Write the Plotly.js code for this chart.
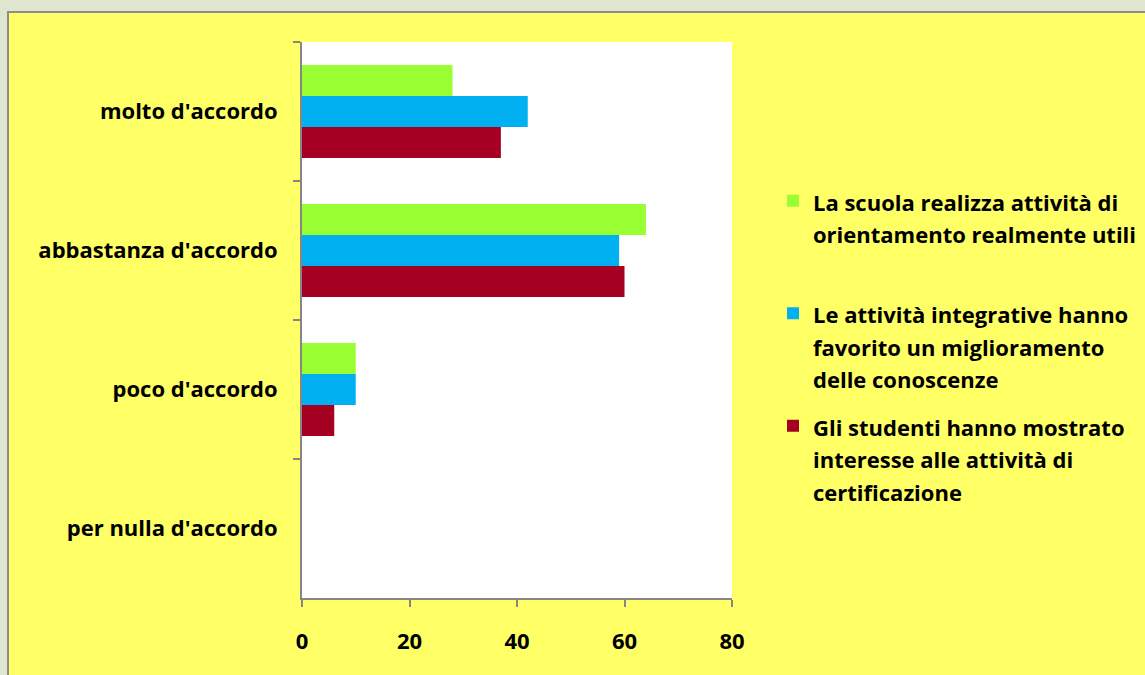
<!DOCTYPE html>
<html>
<head>
<meta charset="utf-8">
<script src="https://cdn.plot.ly/plotly-3.0.1.min.js"></script>
<style>
html,body{margin:0;padding:0;background:#dfe6d0;width:1145px;height:675px;overflow:hidden;}
#frame{position:absolute;left:7px;top:11px;width:1145px;height:675px;background:#FFFF66;border:2px solid #8c8c8c;box-sizing:border-box;}
#chart{position:absolute;left:8px;top:12px;width:1137px;height:663px;}
</style>
</head>
<body>
<div id="frame"></div>
<div id="chart"></div>
<script>
const categories = ["molto d'accordo", "abbastanza d'accordo", "poco d'accordo", "per nulla d'accordo"];
const seriesNames = [
  ["La scuola realizza attività di", "orientamento realmente utili", "\u00a0"],
  ["Le attività integrative hanno", "favorito un miglioramento", "delle conoscenze"],
  ["Gli studenti hanno mostrato", "interesse alle attività di", "certificazione"]
];
const orientamento = [28, 64, 10, 0];
const integrative = [42, 59, 10, 0];
const certificazione = [37, 60, 6, 0];
const colors = ["#99FF33", "#00B0F0", "#A50021"];
const xTicks = [0, 20, 40, 60, 80];

const seriesValues = [orientamento, integrative, certificazione];
const legendLabel = lines => lines.map(l => '<span style="font-size:22px">' + l + '</span>').join('<br>');
const traces = seriesValues.map((vals, i) => ({
  type: 'bar',
  orientation: 'h',
  y: categories,
  x: vals,
  name: legendLabel(seriesNames[i]),
  legendgroup: 'g' + i,
  marker: {color: colors[i]}
}));

const font = {family: '"Open Sans", sans-serif', size: 22, color: '#000000', weight: 'bold'};

const layout = {
  width: 1137,
  height: 663,
  paper_bgcolor: 'rgba(0,0,0,0)',
  plot_bgcolor: '#FFFFFF',
  margin: {l: 294, r: 413, t: 30, b: 77, pad: 0},
  barmode: 'group',
  bargap: 0.33,
  bargroupgap: 0,
  font: font,
  showlegend: true,
  legend: {
    x: 765 / 1137, xref: 'container', xanchor: 'left',
    y: 1 - 166 / 663, yref: 'container', yanchor: 'top',
    bgcolor: 'rgba(0,0,0,0)',
    font: {family: '"Open Sans", sans-serif', size: 25, color: '#000000', weight: 'bold'},
    valign: 'top',
    tracegroupgap: 12,
    traceorder: 'grouped'
  },
  xaxis: {
    range: [0, 80],
    tickvals: xTicks,
    ticktext: xTicks.map(String),
    showgrid: false,
    zeroline: false,
    showline: true,
    linecolor: '#868686',
    linewidth: 2,
    ticks: 'outside',
    ticklen: 7,
    tickwidth: 2,
    tickcolor: '#868686',
    ticklabelstandoff: 16,
    tickfont: font,
    fixedrange: true
  },
  yaxis: {
    type: 'category',
    autorange: 'reversed',
    showgrid: false,
    zeroline: false,
    showline: true,
    linecolor: '#868686',
    linewidth: 2,
    ticks: 'outside',
    tickson: 'boundaries',
    ticklen: 7,
    tickwidth: 2,
    tickcolor: '#868686',
    ticklabelstandoff: 18,
    tickfont: font,
    fixedrange: true
  }
};

Plotly.newPlot('chart', traces, layout, {displayModeBar: false, staticPlot: true});
</script>
</body>
</html>
